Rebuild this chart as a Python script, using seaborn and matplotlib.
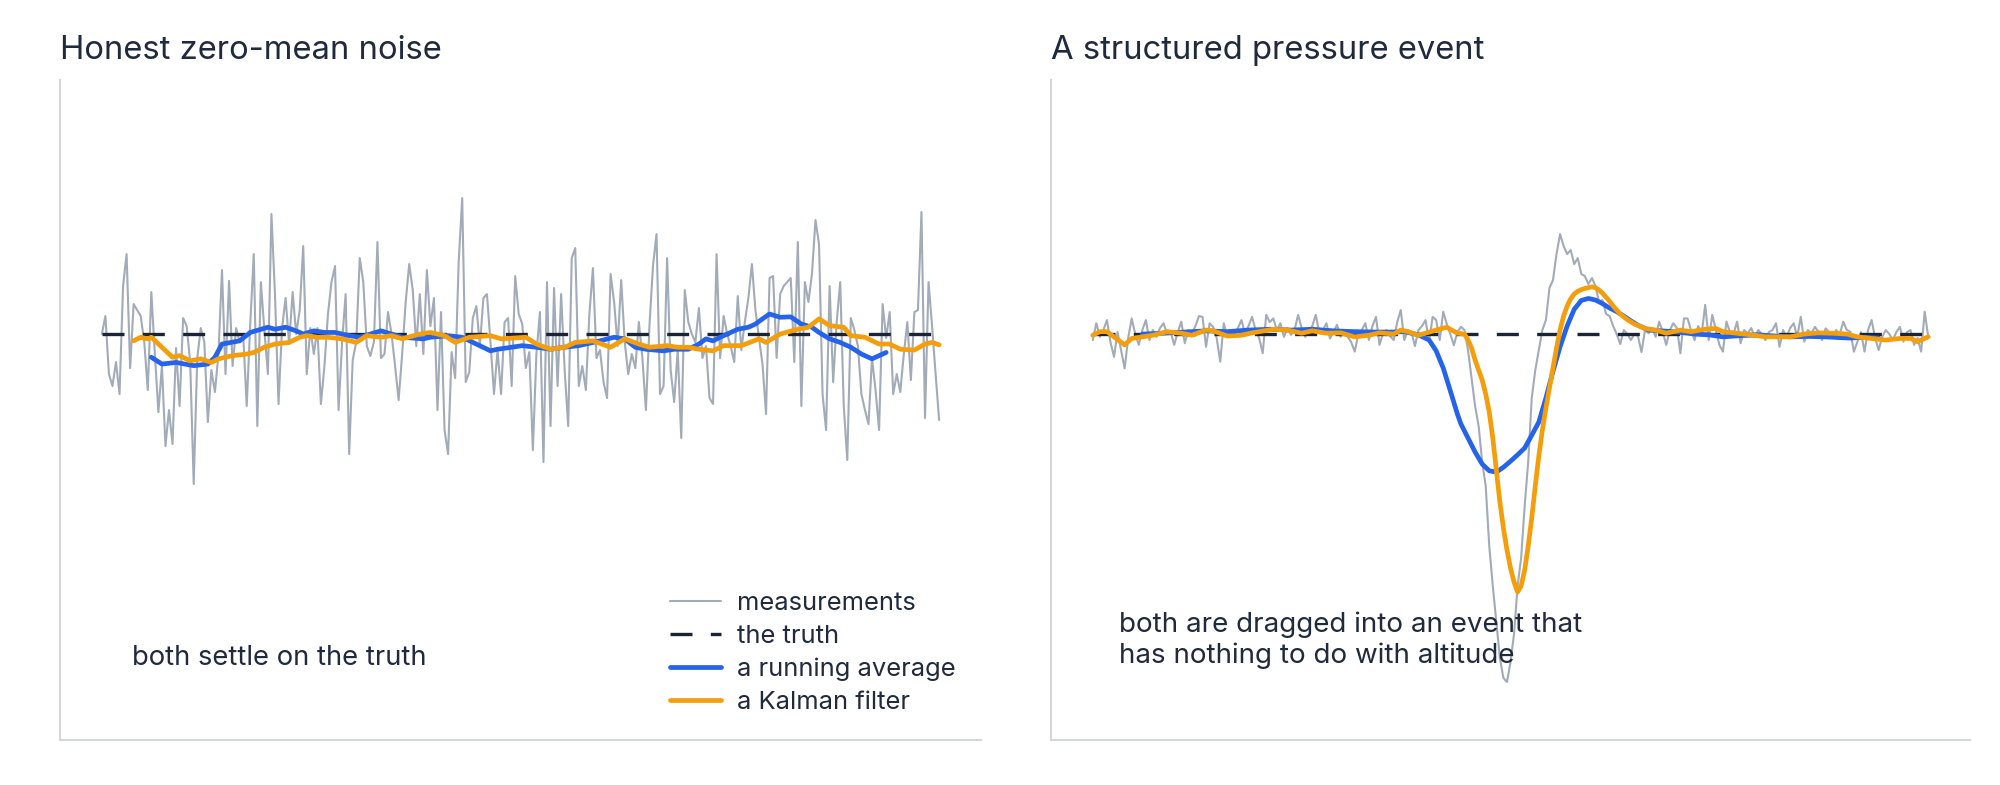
import numpy as np
import matplotlib
matplotlib.use("Agg")
import matplotlib.pyplot as plt
import seaborn as sns

TRUTH = 0.0

# left panel: honest zero-mean noise
noise_meas = [
    0.0, 0.45, -1.0, -1.3, -0.7, -1.5, 1.2, 2.0, -0.85, 0.75,
    0.6, 0.45, -0.2, -1.4, 1.05, -0.5, -1.95, -0.8, -2.8, -1.9,
    -2.75, -0.35, -1.8, 0.4, 0.2, -0.7, -3.75, -0.6, 0.15, -0.2,
    -2.2, -0.9, -1.45, -0.5, 1.6, -1.0, 1.33, -0.8, 0.15, -0.2,
    0.0, -1.8, 0.25, 2.0, -2.3, 1.3, 0.1, -1.0, 3.0, 1.0,
    -1.75, 0.15, 0.9, -0.25, 1.05, 0.0, 0.6, 2.2, -1.0, 0.15,
    -0.5, 0.15, -1.75, -0.8, 0.5, 1.3, 1.7, -1.9, -0.2, 1.0,
    -3.0, -0.65, -0.2, 1.9, 1.3, -0.3, -0.55, -0.2, 2.3, -0.6,
    -0.5, 0.55, 0.0, -0.8, -1.65, -0.5, 0.8, 1.75, 1.1, -0.3,
    1.0, -0.5, 1.6, 0.2, 0.9, -1.9, 0.55, -2.4, -3.0, -0.45,
    -1.1, 1.8, 3.4, -1.2, -0.95, 0.4, 0.7, -0.3, 0.9, 1.0,
    -0.2, -1.5, -0.4, -1.5, 0.3, 0.4, -1.3, 1.45, 0.5, 0.25,
    -0.85, -0.45, -2.9, -0.5, 0.55, -3.2, 1.3, -2.3, 1.15, -1.3,
    1.0, -0.9, -2.3, 1.9, 2.15, -1.3, -0.8, -1.4, 0.5, 1.65,
    -0.6, -0.4, -1.2, -1.6, 1.5, 0.8, -0.3, 1.35, -0.2, -1.0,
    -0.5, -0.85, 0.3, -0.6, -1.9, 0.2, 1.7, 2.5, -1.5, -1.3,
    1.9, -0.9, -1.7, -0.4, -2.6, 1.1, 0.3, 0.0, -0.2, 0.65,
    -0.6, -0.3, -1.6, -1.75, 2.0, -0.6, 0.45, 0.0, -0.3, -0.7,
    0.95, -0.4, 0.3, 0.9, 1.75, 0.6, -0.1, -0.75, -2.0, 1.4,
    1.45, -0.6, 1.0, 1.2, 1.3, 1.4, -0.7, 2.3, -1.8, 1.3,
    0.8, 1.5, 2.85, 2.25, -1.5, -2.4, 1.2, -1.2, 0.3, 1.3,
    -1.8, -3.15, 0.4, 0.1, -0.3, -1.5, -1.9, -2.25, -0.6, -1.4,
    -2.4, 0.75, -0.1, 0.55, -1.5, -1.0, -1.45, -0.5, 0.3, -1.15,
    0.55, 0.6, 3.05, -2.1, 1.3, 0.2, -1.0, -2.15,
]
noise_avg_x = [
    14, 17, 21, 26, 30, 32, 34, 39, 42, 47, 49, 52, 55, 57, 60, 63, 66,
    70, 73, 76, 79, 82, 85, 91, 93, 98, 102, 106, 110, 112, 116, 119,
    123, 127, 131, 135, 141, 145, 148, 151, 154, 159, 162, 166, 169,
    171, 173, 175, 178, 180, 183, 185, 187, 189, 192, 195, 198, 201,
    203, 206, 209, 212, 215, 218, 219, 221, 222,
]
noise_avg = [
    -0.58, -0.75, -0.71, -0.79, -0.75, -0.58, -0.25, -0.17, 0.04, 0.17,
    0.12, 0.17, 0.08, 0.0, 0.08, 0.04, 0.04, -0.04, -0.08, 0.0, 0.08,
    0.0, -0.08, -0.12, -0.08, -0.04, -0.08, -0.25, -0.42, -0.38, -0.33,
    -0.29, -0.33, -0.38, -0.33, -0.29, -0.17, -0.08, -0.12, -0.33,
    -0.38, -0.42, -0.38, -0.38, -0.25, -0.12, -0.17, -0.08, 0.04, 0.12,
    0.17, 0.25, 0.38, 0.5, 0.42, 0.43, 0.25, 0.17, 0.04, -0.12, -0.21,
    -0.33, -0.5, -0.62, -0.58, -0.5, -0.46,
]
noise_kal_x = [
    9, 11, 13, 14, 17, 20, 22, 25, 28, 31, 33, 37, 41, 43, 46, 49, 53,
    56, 58, 61, 64, 68, 72, 75, 79, 82, 85, 90, 93, 97, 100, 104, 110,
    113, 120, 123, 127, 131, 134, 139, 144, 148, 152, 155, 160, 163,
    166, 169, 173, 176, 181, 186, 188, 192, 197, 200, 203, 206, 210,
    212, 216, 220, 223, 226, 230, 233, 235, 237,
]
noise_kal = [
    -0.17, -0.08, -0.12, -0.08, -0.33, -0.58, -0.54, -0.67, -0.62,
    -0.71, -0.62, -0.54, -0.5, -0.46, -0.33, -0.25, -0.21, -0.08, -0.04,
    -0.08, -0.08, -0.12, -0.21, -0.04, -0.08, -0.04, -0.12, 0.0, 0.04,
    -0.04, -0.21, -0.08, -0.04, -0.12, -0.08, -0.25, -0.38, -0.33,
    -0.21, -0.17, -0.33, -0.12, -0.25, -0.33, -0.29, -0.33, -0.33,
    -0.38, -0.42, -0.29, -0.29, -0.12, -0.21, 0.0, 0.12, 0.17, 0.38,
    0.21, 0.17, -0.04, -0.08, -0.25, -0.25, -0.38, -0.4, -0.25, -0.21,
    -0.27,
]

# right panel: a structured pressure event
event_meas = [
    -0.15, 0.27, -0.07, 0.1, 0.35, -0.2, -0.57, 0.05, -0.4, -0.86,
    -0.1, 0.39, 0.0, -0.27, 0.1, 0.35, -0.15, 0.1, -0.07, 0.15,
    0.27, 0.0, 0.05, -0.27, 0.05, 0.31, -0.23, 0.1, 0.02, 0.2,
    0.45, 0.43, -0.32, 0.27, 0.18, -0.1, -0.69, 0.27, -0.07, 0.1,
    0.02, 0.15, 0.35, 0.02, 0.2, 0.43, 0.1, -0.1, -0.48, 0.48,
    0.3, 0.39, 0.1, 0.27, -0.07, 0.15, -0.02, 0.1, 0.48, 0.15,
    -0.07, 0.06, 0.2, 0.48, 0.02, 0.1, 0.27, -0.11, 0.05, 0.23,
    -0.07, 0.1, -0.07, -0.2, -0.44, 0.0, 0.1, 0.27, -0.15, 0.2,
    0.43, -0.27, 0.02, 0.1, -0.05, -0.15, 0.3, 0.6, -0.15, 0.1,
    0.05, -0.3, 0.1, 0.2, 0.35, -0.2, 0.43, 0.35, -0.15, 0.56,
    0.25, 0.0, -0.28, 0.05, 0.18, 0.1, -0.4, -1.1, -1.8, -2.3,
    -3.2, -3.8, -5.3, -6.3, -7.2, -8.1, -8.6, -8.7, -8.2, -7.5,
    -6.3, -5.6, -4.3, -3.2, -1.6, -0.9, -0.4, 0.1, 0.35, 1.15,
    1.35, 2.0, 2.5, 2.2, 2.0, 2.1, 1.75, 1.9, 1.5, 1.45,
    1.25, 1.4, 1.2, 0.8, 0.85, 0.5, 0.45, 0.2, 0.0, -0.25,
    0.1, 0.0, -0.15, 0.0, -0.05, -0.45, 0.1, 0.02, 0.15, -0.07,
    0.31, 0.05, -0.27, 0.1, 0.27, 0.15, -0.48, 0.39, 0.39, 0.1,
    -0.15, 0.2, 0.0, 0.73, -0.15, 0.48, 0.1, -0.27, -0.44, 0.31,
    0.05, 0.0, 0.31, -0.23, 0.1, 0.02, 0.15, -0.07, 0.1, 0.0,
    -0.15, 0.05, 0.1, 0.27, -0.32, 0.1, -0.07, 0.15, 0.27, -0.07,
    0.43, -0.19, 0.1, 0.02, 0.18, 0.05, -0.15, 0.14, 0.05, -0.07,
    0.1, 0.0, 0.31, 0.1, 0.06, -0.44, -0.19, 0.05, -0.44, 0.1,
    0.35, -0.1, -0.4, -0.07, 0.1, 0.0, -0.15, 0.05, 0.18, -0.19,
    0.05, 0.1, -0.27, -0.1, -0.44, 0.56, -0.07,
]
event_avg_x = [
    14, 20, 26, 32, 38, 44, 50, 56, 62, 68, 74, 80, 85, 88, 92, 95, 97,
    99, 101, 103, 104, 106, 108, 110, 112, 114, 116, 118, 120, 122, 124,
    126, 128, 130, 132, 134, 136, 138, 140, 142, 144, 146, 148, 150,
    152, 154, 157, 164, 170, 174, 178, 183, 188, 193, 197, 202, 207,
    211, 214, 218, 222,
]
event_avg = [
    0.0, 0.02, 0.05, 0.08, 0.06, 0.1, 0.12, 0.1, 0.12, 0.08, 0.06, 0.05,
    0.05, 0.06, -0.02, -0.15, -0.42, -0.85, -1.42, -2.0, -2.25, -2.6,
    -2.95, -3.25, -3.42, -3.45, -3.33, -3.18, -3.02, -2.85, -2.53, -2.2,
    -1.6, -0.93, -0.32, 0.2, 0.62, 0.84, 0.89, 0.85, 0.76, 0.65, 0.56,
    0.45, 0.33, 0.22, 0.1, 0.06, 0.0, -0.02, -0.07, -0.04, -0.02, -0.05,
    -0.07, -0.06, -0.07, -0.09, -0.1, -0.08, -0.1,
]
event_kal_x = [
    0, 2, 4, 6, 9, 11, 14, 17, 21, 25, 28, 32, 34, 38, 42, 45, 51, 55,
    59, 62, 66, 70, 74, 78, 81, 85, 87, 89, 92, 97, 100, 103,
    105, 106, 107, 108, 109, 110, 111, 112, 113, 114, 115, 116, 117,
    118, 119, 120, 121, 122, 123, 124, 125, 126, 127, 128, 129, 130,
    131, 132, 133, 134, 135, 136, 137, 138, 139, 140, 141, 142, 143,
    144, 145, 146, 147, 148, 149, 151, 153, 156, 159, 162, 166, 169,
    173, 176, 178, 182, 186, 190, 194, 197, 201, 205, 209, 213, 216,
    220, 224, 228, 231, 233, 236,
]
event_kal = [
    -0.03, 0.06, 0.06, -0.07, -0.27, -0.11, -0.07, -0.03, 0.06, 0.02,
    -0.03, 0.1, 0.08, -0.05, -0.03, 0.03, 0.12, 0.1, 0.02, 0.08, 0.02,
    0.03, -0.07, -0.03, 0.03, 0.0, 0.1, 0.06, -0.03, 0.1, 0.17, 0.02,
    0.0, -0.15, -0.35, -0.65, -0.9, -1.15, -1.5, -1.95, -2.6, -3.4,
    -4.2, -4.85, -5.4, -5.85, -6.2, -6.45, -6.3, -5.9, -5.3, -4.6,
    -3.8, -3.05, -2.4, -1.85, -1.35, -0.85, -0.35, 0.1, 0.45, 0.7,
    0.88, 1.0, 1.07, 1.11, 1.14, 1.16, 1.18, 1.16, 1.1, 1.02, 0.92,
    0.82, 0.7, 0.6, 0.5, 0.36, 0.25, 0.14, 0.1, 0.02, 0.1, 0.06, 0.12,
    0.14, 0.06, 0.02, -0.02, -0.07, -0.07, -0.07, 0.0, 0.03, 0.02, 0.0,
    -0.07, -0.11, -0.15, -0.11, -0.11, -0.19, -0.07,
]

GREY = "#a2abb8"
INK = "#1b2336"
BLUE = "#2563eb"
ORANGE = "#f59e0b"
TEXT = "#1f2a3c"
SPINE = "#d3d6dd"

sns.set_theme(style="white")
plt.rcParams["font.family"] = ["Inter", "DejaVu Sans"]

fig = plt.figure(figsize=(20, 7.85), dpi=100)
ax1 = fig.add_axes([0.030, 0.0573, 0.4605, 0.8407])
ax2 = fig.add_axes([0.5255, 0.0573, 0.4595, 0.8407])


def draw_panel(ax, meas, avg_x, avg, kal_x, kal, show_legend):
    idx = np.arange(len(meas))
    sns.lineplot(x=idx, y=meas, ax=ax, color=GREY, linewidth=1.5,
                 label="measurements", legend=show_legend)
    sns.lineplot(x=idx, y=[TRUTH] * len(meas), ax=ax, color=INK,
                 linewidth=2.4, linestyle=(0, (6.6, 5.5)),
                 label="the truth", legend=show_legend)
    sns.lineplot(x=avg_x, y=avg, ax=ax, color=BLUE, linewidth=3.4,
                 label="a running average", legend=show_legend)
    sns.lineplot(x=kal_x, y=kal, ax=ax, color=ORANGE, linewidth=3.4,
                 label="a Kalman filter", legend=show_legend)

    ax.set_ylim(-10.15, 6.35)
    ax.set_xticks([])
    ax.set_yticks([])
    ax.set_xlabel("")
    ax.set_ylabel("")
    sns.despine(ax=ax)
    for side in ["left", "bottom"]:
        ax.spines[side].set_color(SPINE)
        ax.spines[side].set_linewidth(1.5)


draw_panel(ax1, noise_meas, noise_avg_x, noise_avg, noise_kal_x, noise_kal, True)
draw_panel(ax2, event_meas, event_avg_x, event_avg, event_kal_x, event_kal, False)

ax1.set_title("Honest zero-mean noise", loc="left", fontsize=23.6, color=TEXT, pad=15)
ax2.set_title("A structured pressure event", loc="left", fontsize=23.6, color=TEXT, pad=15)

ax1.text(0.078, 0.124, "both settle on the truth", transform=ax1.transAxes,
         fontsize=19.7, color=TEXT, ha="left", va="center")
ax2.text(0.0735, 0.151, "both are dragged into an event that\nhas nothing to do with altitude",
         transform=ax2.transAxes, fontsize=20, color=TEXT, ha="left",
         va="center", linespacing=1.23)

ax1.legend(loc="center left", bbox_to_anchor=(0.662, 0.132), frameon=False,
           fontsize=18.4, labelcolor=TEXT, handlelength=2.0, handletextpad=0.62,
           labelspacing=0.39, borderpad=0, borderaxespad=0)

fig.savefig("out.png", dpi=100)
plt.close(fig)
